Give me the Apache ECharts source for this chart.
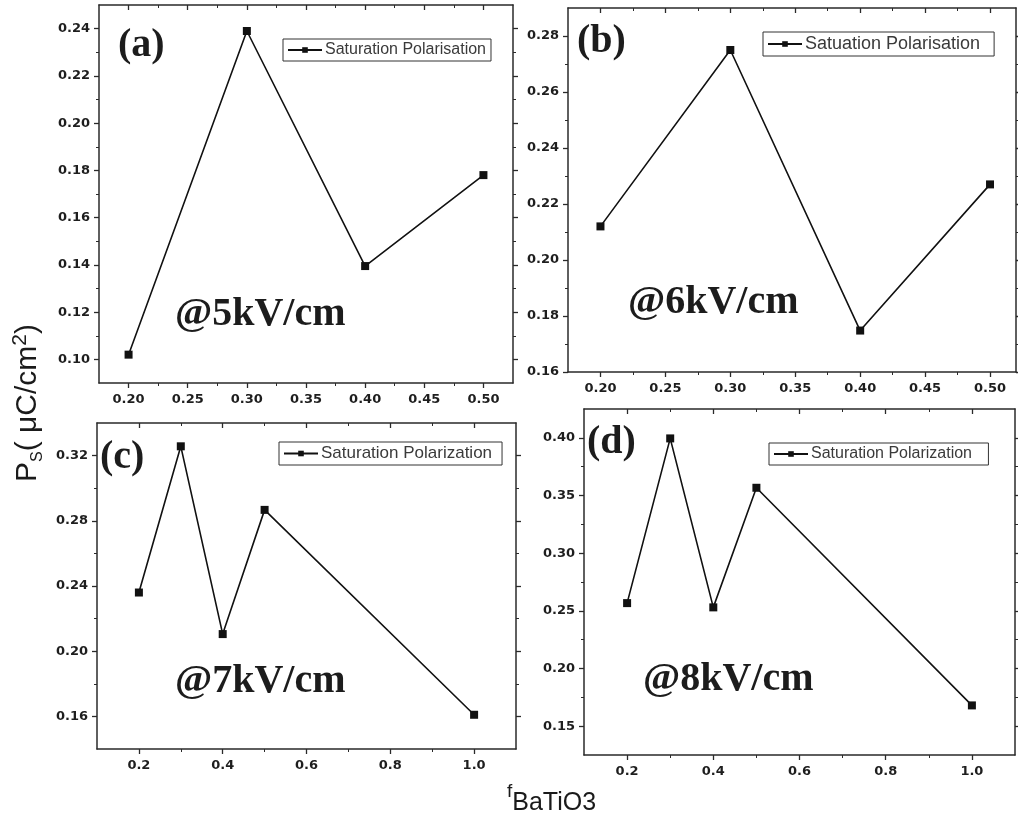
<!DOCTYPE html>
<html><head><meta charset="utf-8">
<script src="https://cdn.jsdelivr.net/npm/echarts@6/dist/echarts.min.js"></script>
<style>html,body{margin:0;padding:0;background:#fff}#c{width:1018px;height:817px}</style>
</head><body><div id="c"></div>
<script>
// ---- data ----
const xA = [0.20, 0.30, 0.40, 0.50];
const yA = [0.102, 0.239, 0.1395, 0.178];
const xB = [0.20, 0.30, 0.40, 0.50];
const yB = [0.212, 0.275, 0.1748, 0.227];
const xC = [0.2, 0.3, 0.4, 0.5, 1.0];
const yC = [0.236, 0.3257, 0.2105, 0.2867, 0.161];
const xD = [0.2, 0.3, 0.4, 0.5, 1.0];
const yD = [0.2567, 0.3995, 0.253, 0.3567, 0.168];

const seriesNames = ['Saturation Polarisation', 'Satuation Polarisation', 'Saturation Polarization', 'Saturation Polarization '];
const panelLetters = ['(a)', '(b)', '(c)', '(d)'];
const fieldLabels = ['@5kV/cm', '@6kV/cm', '@7kV/cm', '@8kV/cm'];

const xTicksAB = [0.20, 0.25, 0.30, 0.35, 0.40, 0.45, 0.50];
const xMinorAB = [0.225, 0.275, 0.325, 0.375, 0.425, 0.475];
const xTicksCD = [0.2, 0.4, 0.6, 0.8, 1.0];
const xMinorCD = [0.3, 0.5, 0.7, 0.9];
const yTicksA = [0.10, 0.12, 0.14, 0.16, 0.18, 0.20, 0.22, 0.24];
const yMinorA = [0.11, 0.13, 0.15, 0.17, 0.19, 0.21, 0.23];
const yTicksB = [0.16, 0.18, 0.20, 0.22, 0.24, 0.26, 0.28];
const yMinorB = [0.17, 0.19, 0.21, 0.23, 0.25, 0.27];
const yTicksC = [0.16, 0.20, 0.24, 0.28, 0.32];
const yMinorC = [0.18, 0.22, 0.26, 0.30];
const yTicksD = [0.15, 0.20, 0.25, 0.30, 0.35, 0.40];
const yMinorD = [0.175, 0.225, 0.275, 0.325, 0.375];

// ---- layout ----
const panels = [
  {xs: xA, ys: yA, xt: xTicksAB, xm: xMinorAB, yt: yTicksA, ym: yMinorA, xdec: 2,
   grid: {left: 99, top: 5, width: 414, height: 378}, xr: [0.175, 0.525], yr: [0.09, 0.25],
   legend: {left: 283, top: 39, fs: 16, pr: 5}, letter: {left: 118, top: 26}, field: {left: 175, top: 295}},
  {xs: xB, ys: yB, xt: xTicksAB, xm: xMinorAB, yt: yTicksB, ym: yMinorB, xdec: 2,
   grid: {left: 568, top: 8, width: 448, height: 364}, xr: [0.175, 0.52], yr: [0.16, 0.29],
   legend: {left: 763, top: 32, fs: 18, pr: 14}, letter: {left: 577, top: 22}, field: {left: 628, top: 283}},
  {xs: xC, ys: yC, xt: xTicksCD, xm: xMinorCD, yt: yTicksC, ym: yMinorC, xdec: 1,
   grid: {left: 97, top: 423, width: 419, height: 326}, xr: [0.1, 1.1], yr: [0.14, 0.34],
   legend: {left: 279, top: 442, fs: 17, pr: 10}, letter: {left: 100, top: 438}, field: {left: 175, top: 662}},
  {xs: xD, ys: yD, xt: xTicksCD, xm: xMinorCD, yt: yTicksD, ym: yMinorD, xdec: 1,
   grid: {left: 584, top: 409, width: 431, height: 346}, xr: [0.1, 1.1], yr: [0.125, 0.425],
   legend: {left: 769, top: 443, fs: 16, pr: 12}, letter: {left: 587, top: 423}, field: {left: 643, top: 660}}
];

const LINE = '#2a2a2a';
const tickFont = {fontFamily: 'DejaVu Sans', fontWeight: 'bold', fontSize: 13, color: '#1e1e1e'};

function axesFor(dim, gi, range, ticks, minor, dec) {
  const pos = dim === 'x' ? ['bottom', 'top'] : ['left', 'right'];
  const base = {gridIndex: gi, type: 'value', min: range[0], max: range[1], splitLine: {show: false}};
  return [
    Object.assign({}, base, {position: pos[0],
      axisLine: {show: true, onZero: false, lineStyle: {color: LINE, width: 1.5}},
      axisTick: {show: true, customValues: ticks, length: 5, lineStyle: {color: LINE, width: 1.3}},
      axisLabel: Object.assign({show: true, customValues: ticks, margin: dim === 'x' ? 10 : 9, formatter: v => v.toFixed(dec)}, tickFont)}),
    Object.assign({}, base, {position: pos[0],
      axisLine: {show: false, onZero: false},
      axisTick: {show: true, customValues: minor, length: 3, lineStyle: {color: LINE, width: 1}},
      axisLabel: {show: false}}),
    Object.assign({}, base, {position: pos[1],
      axisLine: {show: true, onZero: false, lineStyle: {color: LINE, width: 1.5}},
      axisTick: {show: true, inside: dim === 'x', customValues: ticks, length: 5, lineStyle: {color: LINE, width: 1.3}},
      axisLabel: {show: false}}),
    Object.assign({}, base, {position: pos[1],
      axisLine: {show: false, onZero: false},
      axisTick: {show: true, inside: dim === 'x', customValues: minor, length: 3, lineStyle: {color: LINE, width: 1}},
      axisLabel: {show: false}})
  ];
}

const grid = [], xAxis = [], yAxis = [], series = [], legend = [], title = [];
panels.forEach((p, i) => {
  grid.push(Object.assign({containLabel: false, outerBoundsMode: 'none'}, p.grid));
  xAxis.push(...axesFor('x', i, p.xr, p.xt, p.xm, p.xdec));
  yAxis.push(...axesFor('y', i, p.yr, p.yt, p.ym, 2));
  series.push({
    type: 'line', name: seriesNames[i], xAxisIndex: 4 * i, yAxisIndex: 4 * i,
    data: p.xs.map((x, k) => [x, p.ys[k]]),
    symbol: 'rect', symbolSize: 8, showSymbol: true,
    lineStyle: {color: '#111', width: 1.6}, itemStyle: {color: '#111'},
    emphasis: {disabled: true}, animation: false
  });
  legend.push({
    left: p.legend.left, top: p.legend.top, data: [seriesNames[i]], selectedMode: false,
    borderColor: '#333', borderWidth: 1, padding: [3, p.legend.pr, 3, 4],
    itemWidth: 34, itemHeight: 7, itemGap: 0,
    textStyle: {fontFamily: 'Liberation Sans', fontSize: p.legend.fs, color: '#3a3a3a', padding: [0, 0, 0, -2]}
  });
  title.push({text: panelLetters[i], left: p.letter.left, top: p.letter.top, padding: 0,
    textStyle: {fontFamily: 'Liberation Serif', fontWeight: 'bold', fontSize: 40, color: '#1c1c1c'}});
  title.push({text: fieldLabels[i], left: p.field.left, top: p.field.top, padding: 0,
    textStyle: {fontFamily: 'Liberation Serif', fontWeight: 'bold', fontSize: 40, color: '#1c1c1c'}});
});

const chart = echarts.init(document.getElementById('c'), null, {renderer: 'canvas'});
chart.setOption({
  backgroundColor: '#fff',
  animation: false,
  grid, xAxis, yAxis, series, legend, title,
  graphic: [
    {type: 'text', x: 28, y: 403, rotation: Math.PI / 2, silent: true,
     style: {text: '{m|P}{s|S}{m|( μC/cm}{p|2}{m|)}', textAlign: 'center', textVerticalAlign: 'middle',
       rich: {
         m: {fontFamily: 'Liberation Sans', fontSize: 30, lineHeight: 36, fill: '#1a1a1a', verticalAlign: 'middle'},
         s: {fontFamily: 'Liberation Sans', fontSize: 16, lineHeight: 16, fill: '#1a1a1a', verticalAlign: 'bottom'},
         p: {fontFamily: 'Liberation Sans', fontSize: 21, lineHeight: 21, fill: '#1a1a1a', verticalAlign: 'top'}
       }}},
    {type: 'text', x: 507, y: 799, silent: true,
     style: {text: '{f|f}{b|BaTiO3}', textAlign: 'left', textVerticalAlign: 'middle',
       rich: {
         f: {fontFamily: 'Liberation Sans', fontSize: 19, lineHeight: 22, fill: '#1a1a1a', verticalAlign: 'top'},
         b: {fontFamily: 'Liberation Sans', fontSize: 25, lineHeight: 34, fill: '#1a1a1a', verticalAlign: 'bottom'}
       }}}
  ]
});
</script></body></html>
